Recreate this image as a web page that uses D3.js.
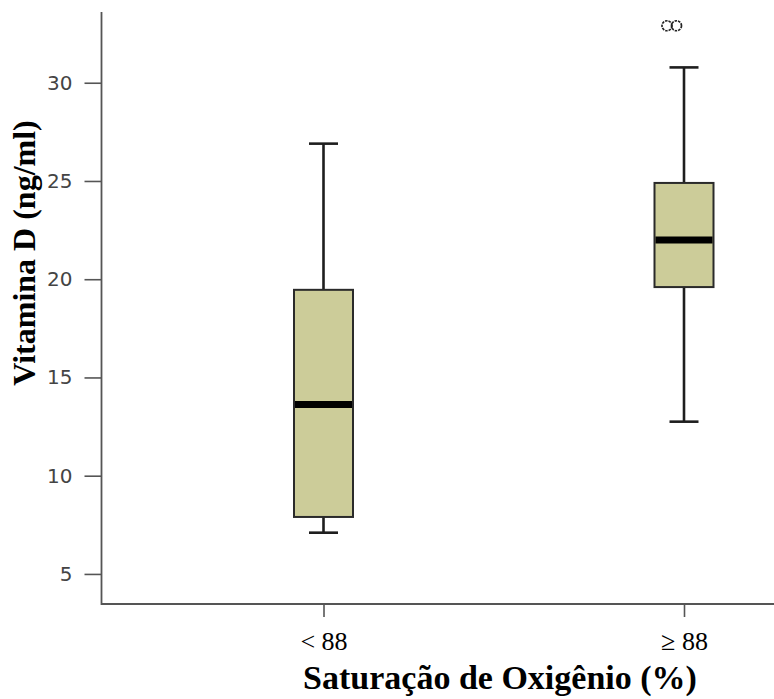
<!DOCTYPE html>
<html>
<head>
<meta charset="utf-8">
<script src="https://cdn.jsdelivr.net/npm/d3@7"></script>
<style>
  body { margin: 0; background: #fff; }
  svg { display: block; }
  .x-axis text { font-family: "Liberation Serif", "Times New Roman", serif; }
</style>
</head>
<body>
<div id="chart"></div>
<script>
// box plot of vitamin D by oxygen saturation group
var width = 774, height = 699;

// data
var categories = ["< 88", "\u2265 88"];
var whiskerLow = [7.1, 12.75];
var q1 = [7.9, 19.6];
var median = [13.62, 22.0];
var q3 = [19.46, 24.9];
var whiskerHigh = [26.9, 30.78];
// outliers: [category index, value]
var outliers = [[1, 32.9], [1, 32.9]];
var yTicks = [5, 10, 15, 20, 25, 30];

var plot = {left: 101.5, right: 774, top: 12, bottom: 604};
var serif = "'Liberation Serif', 'Times New Roman', serif";

var svg = d3.select("#chart").append("svg")
  .attr("width", width)
  .attr("height", height);

var y = d3.scaleLinear()
  .domain([3.47, 33.6])
  .range([plot.bottom, plot.top]);

var x = d3.scalePoint()
  .domain(categories)
  .range([323.5, 684]);

var boxWidth = 59, capWidth = 29;
var ink = "#1e1e1e", axisColor = "#555";

// y axis
var yAxis = svg.append("g")
  .attr("transform", "translate(" + plot.left + ",0)")
  .call(d3.axisLeft(y).tickValues(yTicks).tickSize(17).tickPadding(12).tickSizeOuter(0))
  .attr("font-family", "'DejaVu Sans', sans-serif")
  .attr("font-size", 20);
yAxis.select(".domain").remove();
yAxis.selectAll(".tick line").attr("stroke", axisColor).attr("stroke-width", 1.6);
yAxis.selectAll(".tick text").attr("fill", "#444");

// x axis
var xAxis = svg.append("g")
  .attr("class", "x-axis")
  .attr("transform", "translate(0," + plot.bottom + ")")
  .call(d3.axisBottom(x).tickSize(13).tickPadding(15).tickSizeOuter(0))
  .attr("font-family", serif)
  .attr("font-size", 26);
xAxis.select(".domain").remove();
xAxis.selectAll(".tick line").attr("stroke", axisColor).attr("stroke-width", 1.6);
xAxis.selectAll(".tick text").attr("fill", "#000");

// axis lines
svg.append("path")
  .attr("d", "M" + plot.left + "," + plot.top + "V" + plot.bottom + "H" + plot.right)
  .attr("fill", "none")
  .attr("stroke", axisColor)
  .attr("stroke-width", 1.8);

// boxes
var boxes = svg.append("g").selectAll("g")
  .data(categories)
  .join("g");

boxes.each(function(c, i) {
  var g = d3.select(this), cx = x(c);
  // whisker stems
  g.append("line")
    .attr("x1", cx).attr("x2", cx)
    .attr("y1", y(whiskerHigh[i])).attr("y2", y(q3[i]))
    .attr("stroke", ink).attr("stroke-width", 2.6);
  g.append("line")
    .attr("x1", cx).attr("x2", cx)
    .attr("y1", y(q1[i])).attr("y2", y(whiskerLow[i]))
    .attr("stroke", ink).attr("stroke-width", 2.6);
  // caps
  [whiskerHigh[i], whiskerLow[i]].forEach(function(v) {
    g.append("line")
      .attr("x1", cx - capWidth / 2).attr("x2", cx + capWidth / 2)
      .attr("y1", y(v)).attr("y2", y(v))
      .attr("stroke", ink).attr("stroke-width", 2.6);
  });
  // box
  g.append("rect")
    .attr("x", cx - boxWidth / 2)
    .attr("y", y(q3[i]))
    .attr("width", boxWidth)
    .attr("height", y(q1[i]) - y(q3[i]))
    .attr("fill", "#cccc99")
    .attr("stroke", "#2a2a2a")
    .attr("stroke-width", 2);
  // median band
  g.append("line")
    .attr("x1", cx - boxWidth / 2 + 1).attr("x2", cx + boxWidth / 2 - 1)
    .attr("y1", y(median[i])).attr("y2", y(median[i]))
    .attr("stroke", "#000").attr("stroke-width", 7);
});

// outliers, drawn side by side left of the centre
var outOffsets = [-17, -7.5];
svg.append("g").selectAll("circle")
  .data(outliers)
  .join("circle")
  .attr("cx", function(d, i) { return x(categories[d[0]]) + outOffsets[i]; })
  .attr("cy", function(d) { return y(d[1]); })
  .attr("r", 5)
  .attr("fill", "none")
  .attr("stroke", "#222")
  .attr("stroke-width", 1.7)
  .attr("stroke-dasharray", "2.5,1");

// titles
svg.append("text")
  .attr("x", 500)
  .attr("y", 689)
  .attr("text-anchor", "middle")
  .style("font-family", serif)
  .style("font-weight", "bold")
  .style("font-size", "34px")
  .text("Saturação de Oxigênio (%)");

svg.append("text")
  .attr("transform", "translate(35,253) rotate(-90)")
  .attr("text-anchor", "middle")
  .style("font-family", serif)
  .style("font-weight", "bold")
  .style("font-size", "32px")
  .text("Vitamina D (ng/ml)");
</script>
</body>
</html>
